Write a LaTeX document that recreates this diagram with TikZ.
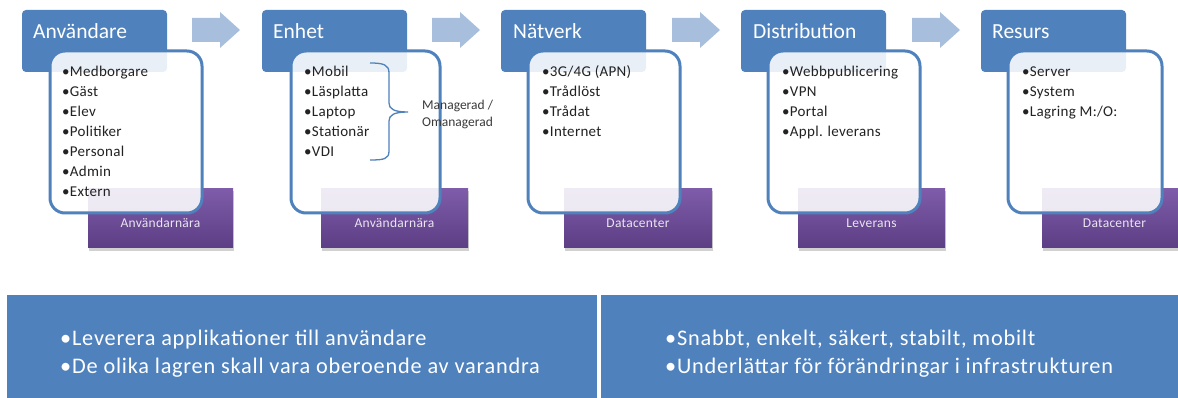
\documentclass[tikz,border=0pt]{standalone}
\usepackage{fontspec}
\setmainfont{Carlito}
\newfontfamily\spacedA[LetterSpace=3.5]{Carlito}
\newfontfamily\spacedB[LetterSpace=2]{Carlito}
\definecolor{hdrblue}{HTML}{4F81BD}
\definecolor{arrblue}{HTML}{A8BEDD}
\definecolor{purtop}{HTML}{7E5CA9}
\definecolor{purbot}{HTML}{5C3E84}
\definecolor{purtxt}{HTML}{E9E5F1}
\definecolor{itemtxt}{HTML}{222222}
\definecolor{notetxt}{HTML}{3A3A3A}
\tikzset{
  hdrbox/.style={fill=hdrblue, rounded corners=4pt, draw=none, inner sep=0pt},
  hdrtxt/.style={anchor=base west, inner sep=0pt, text=white, font=\fontsize{21.5}{24}\selectfont},
  purbox/.style={draw=none, top color=purtop, bottom color=purbot, inner sep=0pt},
  purshadow/.style={fill=black, opacity=0.18, draw=none},
  purtxtst/.style={text=purtxt, inner sep=0pt, font=\spacedB\fontsize{13.5}{15}\selectfont},
  whitebox/.style={fill=white, fill opacity=0.88, draw=hdrblue, line width=3pt, rounded corners=15pt, inner sep=0pt},
  itemst/.style={anchor=base west, inner sep=0pt, text=itemtxt, font=\spacedB\fontsize{15}{17}\selectfont},
  arrowshape/.style={fill=arrblue, draw=none},
  panel/.style={fill=hdrblue, draw=none, inner sep=0pt},
  paneltxt/.style={anchor=base west, inner sep=0pt, text=white, font=\spacedA\fontsize{22.3}{24}\selectfont},
  notest/.style={anchor=base west, inner sep=0pt, text=notetxt, font=\fontsize{13.5}{16}\selectfont},
  bracest/.style={draw=hdrblue, line width=1.3pt}
}
\newcommand{\arrowat}[1]{%
  \fill[arrowshape] (#1,18) -- (#1+28,18) -- (#1+28,12) -- (#1+48,30) -- (#1+28,48) -- (#1+28,42) -- (#1,42) -- cycle;}
\begin{document}
\begin{tikzpicture}[x=1pt,y=-1pt]
\useasboundingbox (0,0) rectangle (1178,398);
\fill[white] (0,0) rectangle (1178,398);

% arrows
\arrowat{192}
\arrowat{432}
\arrowat{672}
\arrowat{912}

% headers
\fill[hdrbox] (22,10) rectangle (167,72);
\fill[hdrbox] (262,10) rectangle (407,72);
\fill[hdrbox] (501,10) rectangle (646,72);
\fill[hdrbox] (741,10) rectangle (886,72);
\fill[hdrbox] (981,10) rectangle (1126,72);
\node[hdrtxt] (h1) at (33,39) {Användare};
\node[hdrtxt] (h2) at (273,39) {Enhet};
\node[hdrtxt] (h3) at (513,39) {Nätverk};
\node[hdrtxt] (h4) at (753,39) {Distribution};
\node[hdrtxt] (h5) at (992,39) {Resurs};

% purple boxes
\fill[purshadow] (89,191) rectangle (234,251);
\fill[purshadow] (322,191) rectangle (469,251);
\fill[purshadow] (565,191) rectangle (713,251);
\fill[purshadow] (799,191) rectangle (946,251);
\fill[purshadow] (1043,191) rectangle (1188,251);
\shade[purbox] (88,189) rectangle (233,248);
\shade[purbox] (321,189) rectangle (468,248);
\shade[purbox] (564,189) rectangle (712,248);
\shade[purbox] (798,189) rectangle (945,248);
\shade[purbox] (1042,189) rectangle (1187,248);
\node[purtxtst] (p1) at (160.5,223) {Användarnära};
\node[purtxtst] (p2) at (394.5,223) {Användarnära};
\node[purtxtst] (p3) at (638,223) {Datacenter};
\node[purtxtst] (p4) at (871.5,223) {Leverans};
\node[purtxtst] (p5) at (1114.5,223) {Datacenter};

% white boxes
\draw[whitebox] (50,51) rectangle (202,213);
\draw[whitebox] (291,51) rectangle (440,213);
\draw[whitebox] (528,51) rectangle (680,213);
\draw[whitebox] (768,51) rectangle (920,213);
\draw[whitebox] (1008,51) rectangle (1162,213);

% items
\foreach \t [count=\i] in {Medborgare,Gäst,Elev,Politiker,Personal,Admin,Extern}
  \node[itemst] (a\i) at (62,57+20*\i) {•\t};
\foreach \t [count=\i] in {Mobil,Läsplatta,Laptop,Stationär,VDI}
  \node[itemst] (b\i) at (304,57+20*\i) {•\t};
\foreach \t [count=\i] in {3G/4G (APN),Trådlöst,Trådat,Internet}
  \node[itemst] (c\i) at (542,57+20*\i) {•\t};
\foreach \t [count=\i] in {Webbpublicering,VPN,Portal,Appl. leverans}
  \node[itemst] (d\i) at (782,57+20*\i) {•\t};
\foreach \t [count=\i] in {Server,System,Lagring M:/O:}
  \node[itemst] (e\i) at (1022,57+20*\i) {•\t};

% brace
\draw[bracest] (370,63) .. controls (384,63) and (389,65) .. (389,73) -- (389,103)
  .. controls (389,109) and (394,112) .. (408,112)
  .. controls (394,112) and (389,115) .. (389,121) -- (389,151)
  .. controls (389,159) and (384,160) .. (370,160);
\node[notest] (n1) at (422,110) {Managerad /};
\node[notest] (n2) at (422,127) {Omanagerad};

% bottom panels
\fill[panel] (7,295) rectangle (597,398);
\fill[panel] (601,295) rectangle (1178,398);
\node[paneltxt] (l1) at (60,345) {•Leverera applikationer till användare};
\node[paneltxt] (l2) at (60,373) {•De olika lagren skall vara oberoende av varandra};
\node[paneltxt] (r1) at (665,345) {•Snabbt, enkelt, säkert, stabilt, mobilt};
\node[paneltxt] (r2) at (665,373) {•Underlättar för förändringar i infrastrukturen};
\end{tikzpicture}
\end{document}
